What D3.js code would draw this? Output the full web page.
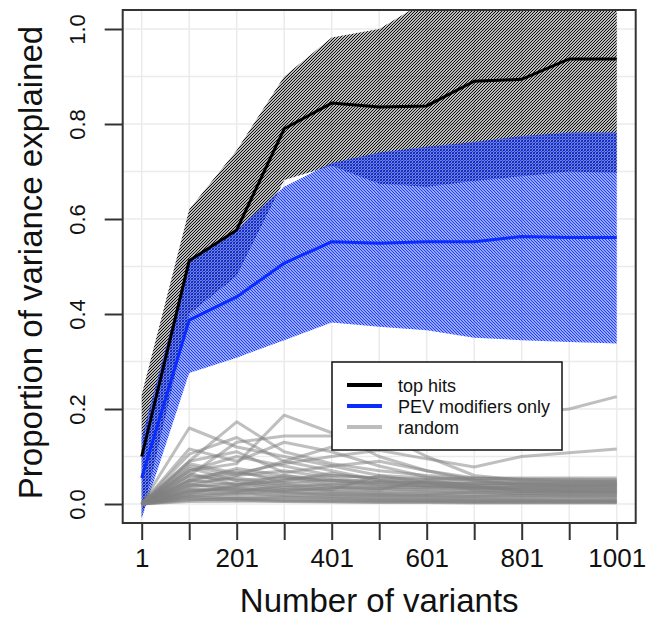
<!DOCTYPE html>
<html>
<head>
<meta charset="utf-8">
<script src="https://cdn.jsdelivr.net/npm/d3@7"></script>
<style>
  html, body { margin: 0; padding: 0; background: #fff; }
  svg { display: block; font-family: "Liberation Sans", Arial, sans-serif; }
</style>
</head>
<body>
<svg id="chart" width="647" height="632"></svg>
<script>
/***************************************************************
    Data
****************************************************************/
const variants = [1, 101, 201, 301, 401, 501, 601, 701, 801, 901, 1001];

const topHitsMean  = [0.100, 0.512, 0.577, 0.790, 0.844, 0.836, 0.838, 0.890, 0.894, 0.937, 0.937];
const topHitsUpper = [0.230, 0.620, 0.745, 0.900, 0.982, 1.000, 1.060, 1.110, 1.110, 1.180, 1.180];
const topHitsLower = [-0.030, 0.400, 0.480, 0.682, 0.712, 0.674, 0.668, 0.680, 0.690, 0.700, 0.697];

const pevMean  = [0.055, 0.387, 0.436, 0.507, 0.552, 0.549, 0.552, 0.552, 0.563, 0.561, 0.561];
const pevUpper = [0.140, 0.512, 0.577, 0.668, 0.718, 0.740, 0.752, 0.762, 0.775, 0.782, 0.782];
const pevLower = [-0.030, 0.276, 0.308, 0.345, 0.382, 0.373, 0.366, 0.350, 0.345, 0.341, 0.338];

const randomRuns = [
    [0, 0.160, 0.120, 0.100, 0.080, 0.060, 0.055, 0.050, 0.048, 0.047, 0.047],
    [0, 0.090, 0.173, 0.110, 0.085, 0.070, 0.060, 0.055, 0.052, 0.050, 0.050],
    [0, 0.070, 0.085, 0.187, 0.150, 0.100, 0.070, 0.055, 0.052, 0.052, 0.051],
    [0, 0.060, 0.130, 0.143, 0.143, 0.145, 0.160, 0.180, 0.190, 0.200, 0.226],
    [0, 0.050, 0.065, 0.085, 0.100, 0.113, 0.095, 0.078, 0.100, 0.108, 0.116],
    [0, 0.116, 0.090, 0.130, 0.110, 0.080, 0.057, 0.050, 0.045, 0.045, 0.044],
    [0, 0.105, 0.140, 0.090, 0.120, 0.150, 0.100, 0.060, 0.050, 0.048, 0.047],
    [0, 0.090, 0.110, 0.066, 0.080, 0.090, 0.070, 0.050, 0.040, 0.040, 0.040],
    [0, 0.080, 0.060, 0.090, 0.070, 0.050, 0.045, 0.040, 0.038, 0.037, 0.037],
    [0, 0.070, 0.100, 0.080, 0.060, 0.055, 0.050, 0.045, 0.042, 0.040, 0.040],
    [0, 0.060, 0.050, 0.055, 0.050, 0.048, 0.045, 0.043, 0.042, 0.041, 0.041],
    [0, 0.055, 0.070, 0.045, 0.050, 0.040, 0.038, 0.036, 0.035, 0.035, 0.034],
    [0, 0.050, 0.040, 0.060, 0.045, 0.038, 0.034, 0.032, 0.031, 0.030, 0.030],
    [0, 0.045, 0.055, 0.040, 0.035, 0.033, 0.030, 0.029, 0.028, 0.028, 0.027],
    [0, 0.040, 0.035, 0.045, 0.038, 0.032, 0.028, 0.026, 0.025, 0.025, 0.024],
    [0, 0.035, 0.045, 0.030, 0.032, 0.028, 0.025, 0.023, 0.022, 0.022, 0.021],
    [0, 0.030, 0.028, 0.035, 0.027, 0.024, 0.022, 0.020, 0.019, 0.019, 0.018],
    [0, 0.028, 0.032, 0.025, 0.022, 0.020, 0.018, 0.017, 0.016, 0.016, 0.015],
    [0, 0.025, 0.020, 0.022, 0.019, 0.017, 0.015, 0.014, 0.013, 0.013, 0.012],
    [0, 0.020, 0.024, 0.018, 0.016, 0.014, 0.012, 0.011, 0.010, 0.010, 0.010],
    [0, 0.018, 0.015, 0.016, 0.013, 0.011, 0.010, 0.009, 0.008, 0.008, 0.008],
    [0, 0.015, 0.012, 0.010, 0.009, 0.008, 0.007, 0.006, 0.006, 0.006, 0.005],
    [0, 0.012, 0.010, 0.008, 0.007, 0.006, 0.005, 0.005, 0.004, 0.004, 0.004],
    [0, 0.010, 0.008, 0.006, 0.005, 0.004, 0.004, 0.003, 0.003, 0.003, 0.003],
    [0, 0.065, 0.040, 0.050, 0.060, 0.055, 0.052, 0.054, 0.055, 0.055, 0.055],
    [0, 0.075, 0.050, 0.035, 0.042, 0.046, 0.044, 0.043, 0.044, 0.044, 0.044],
    [0, 0.085, 0.065, 0.055, 0.040, 0.036, 0.034, 0.033, 0.033, 0.032, 0.032],
    [0, 0.048, 0.075, 0.060, 0.050, 0.042, 0.040, 0.039, 0.038, 0.038, 0.038],
    [0, 0.038, 0.060, 0.070, 0.055, 0.045, 0.037, 0.035, 0.034, 0.034, 0.033],
    [0, 0.022, 0.040, 0.050, 0.065, 0.050, 0.040, 0.036, 0.030, 0.029, 0.029],
    [0, 0.032, 0.026, 0.040, 0.030, 0.060, 0.045, 0.030, 0.026, 0.025, 0.025],
    [0, 0.026, 0.036, 0.028, 0.034, 0.030, 0.050, 0.038, 0.028, 0.027, 0.026],
    [0, 0.016, 0.022, 0.030, 0.026, 0.022, 0.020, 0.025, 0.022, 0.021, 0.021],
    [0, 0.042, 0.030, 0.024, 0.020, 0.018, 0.017, 0.016, 0.018, 0.017, 0.017],
    [0, 0.008, 0.012, 0.014, 0.012, 0.010, 0.009, 0.008, 0.008, 0.007, 0.007],
    [0, 0.005, 0.006, 0.005, 0.004, 0.003, 0.003, 0.002, 0.002, 0.002, 0.002]
];

const xTickValues = [1, 101, 201, 301, 401, 501, 601, 701, 801, 901, 1001];
const xTickLabels = ["1", "", "201", "", "401", "", "601", "", "801", "", "1001"];
const yTickValues = [0, 0.2, 0.4, 0.6, 0.8, 1.0];
const yGridValues = [0, 0.1, 0.2, 0.3, 0.4, 0.5, 0.6, 0.7, 0.8, 0.9, 1.0];

const legendLabels = ["top hits", "PEV modifiers only", "random"];
const legendColors = ["#000000", "#0a2cff", "#bdbdbd"];

/***************************************************************
    Layout
****************************************************************/
const box = { left: 122.7, right: 635.7, top: 10, bottom: 523 };

const x = d3.scaleLinear().domain([1, 1001]).range([141.7, 616.7]);
const y = d3.scaleLinear().domain([0, 1]).range([504, 29]);

const svg = d3.select("#chart");

/***************************************************************
    Defs: hatching + clip
****************************************************************/
const defs = svg.append("defs");

defs.append("clipPath").attr("id", "plot-clip")
    .append("rect")
    .attr("x", box.left).attr("y", box.top)
    .attr("width", box.right - box.left).attr("height", box.bottom - box.top);

// 45 degree shading lines, 3px apart horizontally (like polygon(density=...))
function addHatch(id, color, width, rising) {
    const p = defs.append("pattern")
        .attr("id", id)
        .attr("patternUnits", "userSpaceOnUse")
        .attr("width", 3).attr("height", 3);
    p.append("path")
        .attr("d", rising ? "M-1,1 L1,-1 M0,3 L3,0 M2,4 L4,2" : "M-1,2 L1,4 M0,0 L3,3 M2,-1 L4,1")
        .attr("stroke", color)
        .attr("stroke-width", width)
        .attr("fill", "none");
}
addHatch("hatch-black", "#000", 1.05, true);
addHatch("hatch-blue", "#1a3cff", 1.3, false);

/***************************************************************
    Grid
****************************************************************/
const grid = svg.append("g").attr("stroke", "#ebebeb").attr("stroke-width", 1.5);
grid.selectAll("line.gx").data(xTickValues).enter().append("line")
    .attr("x1", d => x(d)).attr("x2", d => x(d))
    .attr("y1", box.top).attr("y2", box.bottom);
grid.selectAll("line.gy").data(yGridValues).enter().append("line")
    .attr("x1", box.left).attr("x2", box.right)
    .attr("y1", d => y(d)).attr("y2", d => y(d));

/***************************************************************
    Bands, random runs, means
****************************************************************/
const plot = svg.append("g").attr("clip-path", "url(#plot-clip)");

function bandPoints(upper, lower) {
    const pts = variants.map((v, i) => [x(v), y(upper[i])]);
    for (let i = variants.length - 1; i >= 0; i--) pts.push([x(variants[i]), y(lower[i])]);
    return pts;
}

plot.append("polygon")
    .attr("points", bandPoints(topHitsUpper, topHitsLower).join(" "))
    .attr("fill", "url(#hatch-black)");
plot.append("polygon")
    .attr("points", bandPoints(pevUpper, pevLower).join(" "))
    .attr("fill", "url(#hatch-blue)");

const line = d3.line().x(d => x(d[0])).y(d => y(d[1]));

plot.append("g").selectAll("path").data(randomRuns).enter().append("path")
    .attr("d", run => line(variants.map((v, i) => [v, run[i]])))
    .attr("fill", "none")
    .attr("stroke", "#808080")
    .attr("stroke-opacity", 0.5)
    .attr("stroke-width", 3)
    .attr("stroke-linejoin", "round");

plot.append("path")
    .attr("d", line(variants.map((v, i) => [v, topHitsMean[i]])))
    .attr("fill", "none").attr("stroke", "#000").attr("stroke-width", 3);
plot.append("path")
    .attr("d", line(variants.map((v, i) => [v, pevMean[i]])))
    .attr("fill", "none").attr("stroke", "#0a2cff").attr("stroke-width", 3);

/***************************************************************
    Box + axes
****************************************************************/
svg.append("rect")
    .attr("x", box.left).attr("y", box.top)
    .attr("width", box.right - box.left).attr("height", box.bottom - box.top)
    .attr("fill", "none").attr("stroke", "#333").attr("stroke-width", 2);

const xAxis = svg.append("g").attr("transform", `translate(0,${box.bottom})`)
    .call(d3.axisBottom(x).tickValues(xTickValues).tickSize(17)
        .tickFormat((d, i) => xTickLabels[i]));
xAxis.select(".domain").remove();
xAxis.selectAll(".tick line").attr("stroke", "#333").attr("stroke-width", 2);
xAxis.selectAll(".tick text")
    .attr("dy", null).attr("y", 44)
    .attr("fill", "#111").attr("font-size", 26)
    .attr("font-family", "Liberation Sans, Arial, sans-serif");

const yAxis = svg.append("g").attr("transform", `translate(${box.left},0)`)
    .call(d3.axisLeft(y).tickValues(yTickValues).tickSize(18).tickFormat(d3.format(".1f")));
yAxis.select(".domain").remove();
yAxis.selectAll(".tick line").attr("stroke", "#333").attr("stroke-width", 2);
yAxis.selectAll(".tick text")
    .attr("x", null).attr("dy", null)
    .attr("transform", "translate(-38,0) rotate(-90)")
    .attr("text-anchor", "middle")
    .attr("fill", "#111").attr("font-size", 22)
    .attr("font-family", "Liberation Sans, Arial, sans-serif");

svg.append("text")
    .attr("x", (box.left + box.right) / 2).attr("y", 612)
    .attr("text-anchor", "middle").attr("font-size", 33).attr("fill", "#111")
    .text("Number of variants");

svg.append("text")
    .attr("transform", `translate(42,${(box.top + box.bottom) / 2 - 4}) rotate(-90)`)
    .attr("text-anchor", "middle").attr("font-size", 33).attr("fill", "#111")
    .text("Proportion of variance explained");

/***************************************************************
    Legend
****************************************************************/
const legend = svg.append("g");
legend.append("rect")
    .attr("x", 332).attr("y", 362).attr("width", 230).attr("height", 88)
    .attr("fill", "#fff").attr("stroke", "#111").attr("stroke-width", 1.5);

const rows = legend.selectAll("g.row").data(legendLabels).enter().append("g")
    .attr("transform", (d, i) => `translate(0,${385 + i * 21})`);
rows.append("line")
    .attr("x1", 347).attr("x2", 382).attr("y1", 0).attr("y2", 0)
    .attr("stroke", (d, i) => legendColors[i]).attr("stroke-width", 4);
rows.append("text")
    .attr("x", 398).attr("y", 6.5)
    .attr("font-size", 18).attr("fill", "#111")
    .text(d => d);
</script>
</body>
</html>
